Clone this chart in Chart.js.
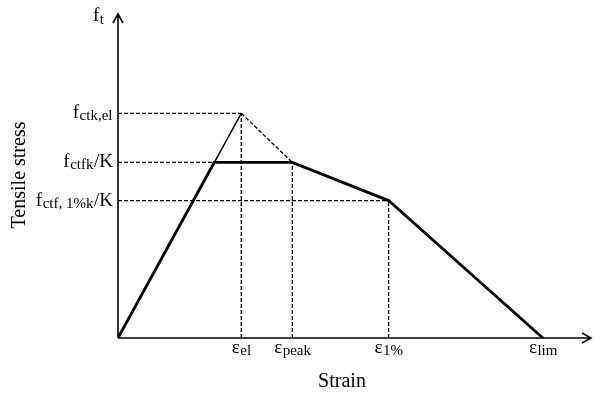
<!DOCTYPE html>
<html>
<head>
  <title>Tensile stress - strain</title>
  <script src="https://cdn.jsdelivr.net/npm/chart.js"></script>
  <style>
    body { margin: 0; background: #fff; }
  </style>
</head>
<body>
  <canvas id="chart" width="600" height="395"></canvas>
  <script>
    // strain positions (x) and stress levels (y)
    const strainTicks = [123, 174, 270, 424];
    const strainNames = [['ε', 'el'], ['ε', 'peak'], ['ε', '1%'], ['ε', 'lim']];
    const stressTicks = [224, 175, 137];
    const stressNames = [['f', 'ctk,el', ''], ['f', 'ctfk', '/K'], ['f', 'ctf, 1%k', '/K']];
    const kneeStrain = 96; // where the thick branch meets f_ctfk/K
    const xMax = 472, yMax = 323;

    const elastic = [{ x: 0, y: 0 }, { x: strainTicks[0], y: stressTicks[0] }];
    const softening = [{ x: strainTicks[0], y: stressTicks[0] }, { x: strainTicks[1], y: stressTicks[1] }];
    const design = [
      { x: 0, y: 0 },
      { x: kneeStrain, y: stressTicks[1] },
      { x: strainTicks[1], y: stressTicks[1] },
      { x: strainTicks[2], y: stressTicks[2] },
      { x: strainTicks[3], y: 0 }
    ];

    const guide = (pts) => ({
      data: pts, showLine: true, borderColor: '#000', borderWidth: 1.3,
      borderDash: [4, 2], pointRadius: 0, fill: false
    });

    const datasets = [];
    for (let i = 0; i < 3; i++) {
      datasets.push(guide([{ x: 0, y: stressTicks[i] }, { x: strainTicks[i], y: stressTicks[i] }]));
      datasets.push(guide([{ x: strainTicks[i], y: 0 }, { x: strainTicks[i], y: stressTicks[i] }]));
    }
    datasets.push(guide(softening));
    datasets.push({ data: elastic, showLine: true, borderColor: '#000', borderWidth: 1.5, pointRadius: 0 });
    datasets.push({ data: design, showLine: true, borderColor: '#000', borderWidth: 2.8, pointRadius: 0 });

    const serif = '"Liberation Serif", "DejaVu Serif", serif';

    function subText(ctx, x, y, parts, size, align, drop) {
      const [main, sub, tail] = parts;
      const f1 = size + 'px ' + serif, f2 = Math.round(size * 0.8) + 'px ' + serif;
      ctx.font = f1; const w1 = ctx.measureText(main).width;
      ctx.font = f2; const w2 = ctx.measureText(sub).width;
      ctx.font = f1; const w3 = tail ? ctx.measureText(tail).width : 0;
      const total = w1 + w2 + w3;
      let x0 = align === 'right' ? x - total : align === 'center' ? x - total / 2 : x;
      ctx.textAlign = 'left';
      ctx.textBaseline = 'alphabetic';
      ctx.font = f1; ctx.fillText(main, x0, y);
      ctx.font = f2; ctx.fillText(sub, x0 + w1 + 0.5, y + drop);
      if (tail) { ctx.font = f1; ctx.fillText(tail, x0 + w1 + w2 + 1, y); }
    }

    const axesPlugin = {
      id: 'axesPlugin',
      afterDraw(chart) {
        const ctx = chart.ctx;
        const xs = chart.scales.x, ys = chart.scales.y;
        const ox = xs.getPixelForValue(0), oy = ys.getPixelForValue(0);
        const xe = xs.getPixelForValue(xMax), ye = ys.getPixelForValue(yMax);
        ctx.save();
        ctx.strokeStyle = '#000';
        ctx.fillStyle = '#000';
        ctx.lineWidth = 1.6;
        ctx.beginPath();
        ctx.moveTo(ox, oy); ctx.lineTo(xe, oy);
        ctx.moveTo(ox, oy); ctx.lineTo(ox, ye);
        // arrow heads
        ctx.moveTo(xe - 9, oy - 5); ctx.lineTo(xe, oy); ctx.lineTo(xe - 9, oy + 5);
        ctx.moveTo(ox - 5, ye + 9); ctx.lineTo(ox, ye); ctx.lineTo(ox + 5, ye + 9);
        ctx.stroke();

        subText(ctx, 93, 21, ['f', 't', ''], 19, 'left', 3);
        stressTicks.forEach((v, i) => {
          subText(ctx, 112, ys.getPixelForValue(v) + 5, stressNames[i], 19, 'right', 2);
        });
        strainTicks.forEach((v, i) => {
          subText(ctx, xs.getPixelForValue(v), 353, [strainNames[i][0], strainNames[i][1], ''], 19, 'center', 2);
        });

        ctx.font = '20px ' + serif;
        ctx.textAlign = 'center';
        ctx.textBaseline = 'middle';
        ctx.fillText('Strain', 342, 382);
        ctx.translate(20, 175);
        ctx.rotate(-Math.PI / 2);
        ctx.fillText('Tensile stress', 0, 0);
        ctx.restore();
      }
    };

    new Chart(document.getElementById('chart').getContext('2d'), {
      type: 'scatter',
      data: { datasets },
      options: {
        responsive: false,
        animation: false,
        layout: { padding: { left: 118, right: 9, top: 14, bottom: 57 } },
        plugins: { legend: { display: false }, tooltip: { enabled: false } },
        scales: {
          x: { type: 'linear', min: 0, max: xMax, display: false },
          y: { type: 'linear', min: 0, max: yMax, display: false }
        }
      },
      plugins: [axesPlugin]
    });
  </script>
</body>
</html>
